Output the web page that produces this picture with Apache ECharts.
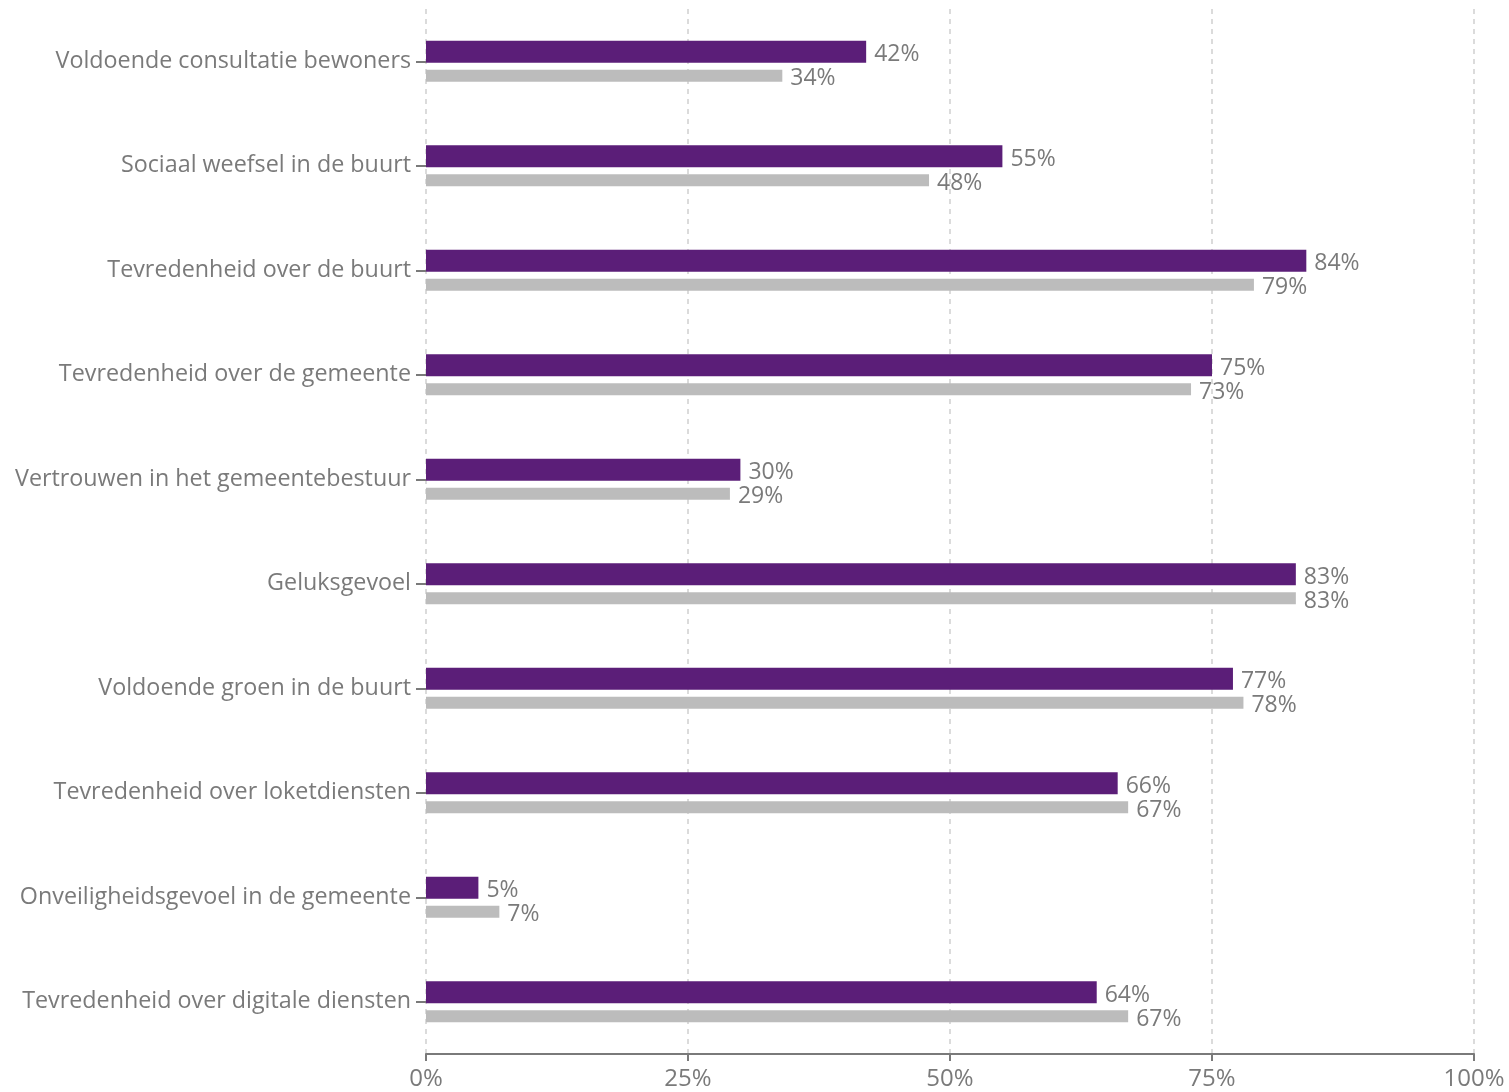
<!DOCTYPE html>
<html>
<head>
<meta charset="utf-8">
<script src="https://cdn.jsdelivr.net/npm/echarts@6/dist/echarts.min.js"></script>
<style>html,body{margin:0;padding:0;background:#fff}#c{width:1509px;height:1092px}</style>
</head>
<body>
<div id="c"></div>
<script>
const categories = [
  "Voldoende consultatie bewoners",
  "Sociaal weefsel in de buurt",
  "Tevredenheid over de buurt",
  "Tevredenheid over de gemeente",
  "Vertrouwen in het gemeentebestuur",
  "Geluksgevoel",
  "Voldoende groen in de buurt",
  "Tevredenheid over loketdiensten",
  "Onveiligheidsgevoel in de gemeente",
  "Tevredenheid over digitale diensten"
];
const seriesPurple = [42, 55, 84, 75, 30, 83, 77, 66, 5, 64];
const seriesGray = [34, 48, 79, 73, 29, 83, 78, 67, 7, 67];
const xTicks = [0, 25, 50, 75, 100];

const FONT = "Open Sans";
const TXT = '#7a7a7a';
const chart = echarts.init(document.getElementById('c'));
chart.setOption({
  animation: false,
  grid: { left: 426, right: 35, top: 9, bottom: 38, containLabel: false },
  xAxis: {
    type: 'value', min: xTicks[0], max: xTicks[xTicks.length - 1], interval: 25,
    axisLine: { show: true, lineStyle: { color: '#7a7a7a', width: 2 } },
    axisTick: { show: true, length: 7, lineStyle: { color: '#7a7a7a', width: 2 } },
    axisLabel: { formatter: '{value}%', color: TXT, fontSize: 24, fontFamily: FONT, margin: 13 },
    splitLine: { show: true, lineStyle: { color: '#cfcfcf', type: [5, 5], width: 1.5 } }
  },
  yAxis: {
    type: 'category', data: categories, inverse: true,
    axisLine: { show: false },
    axisTick: { show: true, alignWithLabel: true, length: 10, lineStyle: { color: '#7a7a7a', width: 2 } },
    axisLabel: { color: TXT, fontSize: 23.3, fontFamily: FONT, margin: 15, padding: [3, 0, 0, 0] }
  },
  series: [
    {
      type: 'bar', data: seriesPurple, barWidth: 22, barGap: '32%',
      itemStyle: { color: '#5b1e78' },
      label: { show: true, position: 'right', distance: 8, offset: [0, 3], formatter: '{c}%', color: TXT, fontSize: 23, fontFamily: FONT }
    },
    {
      type: 'bar', data: seriesGray, barWidth: 12,
      itemStyle: { color: '#bcbcbc' },
      label: { show: true, position: 'right', distance: 8, offset: [0, 3], formatter: '{c}%', color: TXT, fontSize: 23, fontFamily: FONT }
    }
  ]
});
</script>
</body>
</html>
